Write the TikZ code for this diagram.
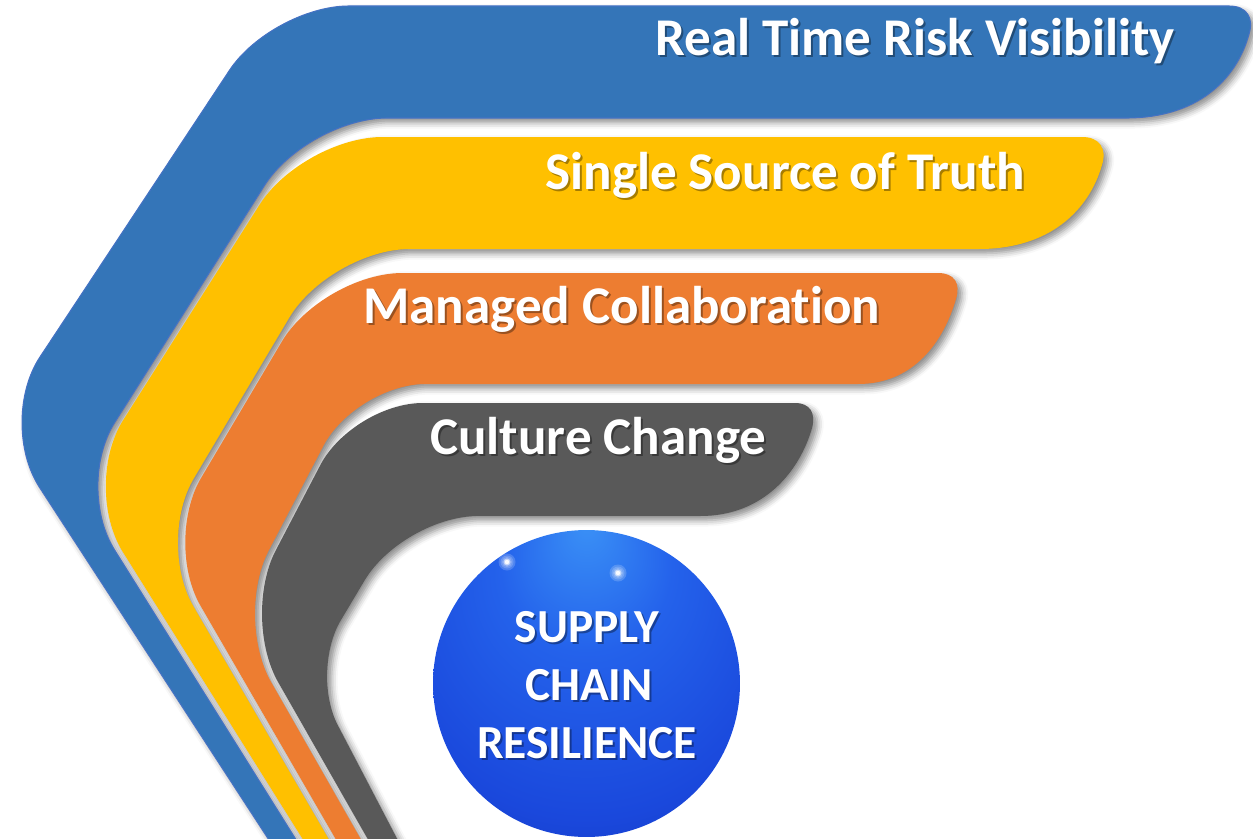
\documentclass[tikz,border=0pt]{standalone}
\usepackage{fontspec}
\setmainfont{Carlito}[Ligatures=NoCommon]
\usetikzlibrary{calc,shadows.blur}
\definecolor{cblue}{HTML}{3475B8}
\definecolor{cblueedge}{HTML}{4472C4}
\definecolor{cyellow}{HTML}{FFC000}
\definecolor{corange}{HTML}{ED7D31}
\definecolor{cgray}{HTML}{595959}
\definecolor{sA}{HTML}{3A90F6}
\definecolor{sB}{HTML}{2462EB}
\definecolor{sC}{HTML}{1A48DC}
\definecolor{sD}{HTML}{1232B8}
\definecolor{sE}{HTML}{0A2488}
\pgfdeclareradialshading{spheresh}{\pgfpoint{0bp}{26bp}}{color(0bp)=(sA); color(14bp)=(sB); color(32bp)=(sC); color(45bp)=(sD); color(52bp)=(sE)}
% corner: prev, corner, next, distance
\newcommand\crn[4]{-- ($(#2)!#4!(#1)$) .. controls ($(#2)!0.4477*#4!(#1)$) and ($(#2)!0.4477*#4!(#3)$) .. ($(#2)!#4!(#3)$)}
\tikzset{
  band/.style={blur shadow={shadow xshift=2.5pt, shadow yshift=-2.5pt, shadow blur radius=3.5pt, shadow opacity=45}},
  lbl/.style={text=white, font=\bfseries\fontsize{30.2}{36}\selectfont, inner sep=0pt, anchor=base west},
  lblsh/.style={text=black, opacity=0.35, font=\bfseries\fontsize{30.2}{36}\selectfont, inner sep=0pt, anchor=base west},
  slbl/.style={text=white, font=\bfseries\fontsize{27}{32}\selectfont, inner sep=0pt, anchor=base},
  slblsh/.style={text=black, opacity=0.35, font=\bfseries\fontsize{27}{32}\selectfont, inner sep=0pt, anchor=base},
  glint/.style={fill=white, opacity=0.18}
}
\begin{document}
\begin{tikzpicture}[x=0.02cm, y=-0.02cm]
\useasboundingbox (0,0) rectangle (1253,838);
% blue band
\path[band, fill=cblue, draw=cblueedge, line width=0.6pt] (275.5,850)
  \crn{275.5,850}{-3,422}{272,6}{1.56cm}
  \crn{-3,422}{272,6}{1229,6}{1.54cm}
  -- (1229,6) .. controls (1247,6) and (1254,18) .. (1249,34)
  .. controls (1236,81) and (1196,118) .. (1126,118)
  \crn{1126,118}{307,118}{74.5,486}{1.6cm}
  \crn{307,118}{74.5,486}{302.5,850}{1.5cm}
  -- (302.5,850) -- cycle;
% yellow band
\path[band, fill=cyellow] (309.5,850)
  \crn{309.5,850}{81.5,486}{302.5,137}{1.56cm}
  \crn{81.5,486}{302.5,137}{1082,137}{1.6cm}
  -- (1082,137) .. controls (1100,137) and (1107,149) .. (1102,165)
  .. controls (1089,210) and (1050,249) .. (979,249)
  \crn{979,249}{330,249}{156,542}{1.6cm}
  \crn{330,249}{156,542}{335,850}{1.48cm}
  -- (335,850) -- cycle;
% orange band
\path[band, fill=corange] (342,850)
  \crn{342,850}{163.4,541.7}{322.5,273}{1.48cm}
  \crn{163.4,541.7}{322.5,273}{938,273}{1.6cm}
  -- (938,273) .. controls (954,273) and (961,283) .. (956,299)
  .. controls (944,340) and (915,384) .. (858,384)
  \crn{858,384}{355.7,384}{234,617}{1.4cm}
  \crn{355.7,384}{234,617}{367,850}{1.5cm}
  -- (367,850) -- cycle;
% gray band
\path[band, fill=cgray] (374,850)
  \crn{374,850}{241,617}{352.8,403}{1.5cm}
  \crn{241,617}{352.8,403}{795,403}{1.4cm}
  -- (795,403) .. controls (810,403) and (816,413) .. (812,428)
  .. controls (800,470) and (765,516) .. (700,516)
  \crn{700,516}{403,516}{310,672}{1.5cm}
  \crn{403,516}{310,672}{403,850}{1.2cm}
  -- (403,850) -- cycle;
% labels
\node[lblsh] (t1s) at (657,58) {Real Time Risk Visibility};
\node[lbl] (t1) at (655,56) {Real Time Risk Visibility};
\node[lblsh] (t2s) at (547,191) {Single Source of Truth};
\node[lbl] (t2) at (545,189) {Single Source of Truth};
\node[lblsh] (t3s) at (365,325) {Managed Collaboration};
\node[lbl] (t3) at (363,323) {Managed Collaboration};
\node[lblsh] (t4s) at (432,456) {Culture Change};
\node[lbl] (t4) at (430,454) {Culture Change};
% sphere
\shade[shading=spheresh] (586.5,683.5) circle (3.07cm);
\foreach \gx/\gy in {507/562, 618/573}{
  \fill[glint] (\gx,\gy) circle (0.17cm);
  \fill[glint] (\gx,\gy) circle (0.13cm);
  \fill[glint] (\gx,\gy) circle (0.10cm);
  \fill[glint, opacity=0.5] (\gx,\gy) circle (0.07cm);
  \fill[white, opacity=0.9] (\gx,\gy) circle (0.045cm);
}
\node[slblsh] (s1s) at (589,644) {SUPPLY};
\node[slbl] (s1) at (587,642) {SUPPLY};
\node[slblsh] (s2s) at (591,702) {CHAIN};
\node[slbl] (s2) at (589,700) {CHAIN};
\node[slblsh] (s3s) at (589,760) {RESILIENCE};
\node[slbl] (s3) at (587,758) {RESILIENCE};
\end{tikzpicture}
\end{document}
